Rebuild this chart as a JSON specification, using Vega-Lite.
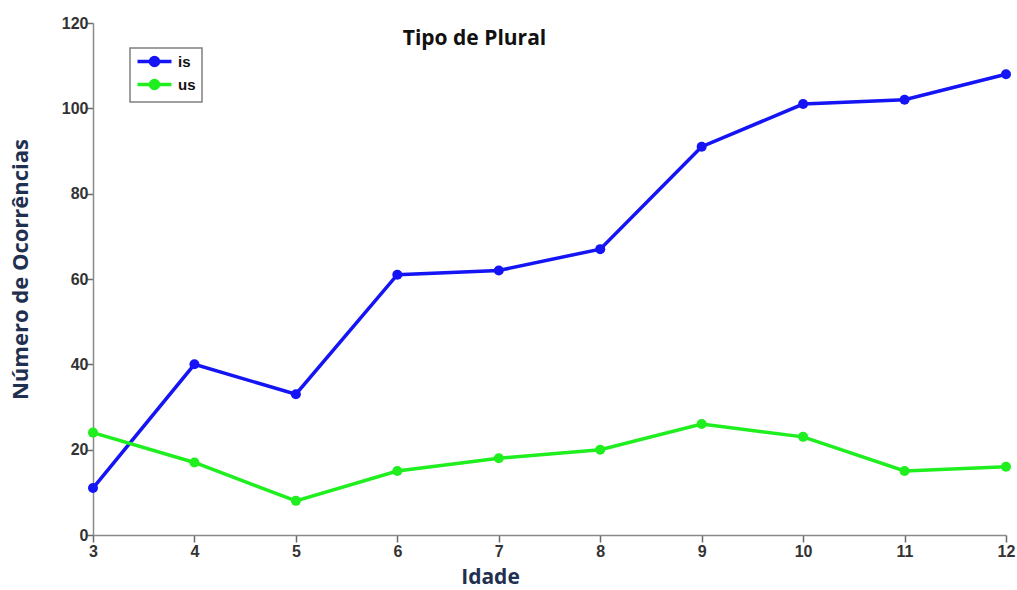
{
  "$schema": "https://vega.github.io/schema/vega-lite/v6.json",
  "width": 913,
  "height": 512,
  "autosize": {"type": "none"},
  "padding": {"left": 93, "top": 23, "right": 11, "bottom": 55},
  "background": "white",
  "config": {"view": {"stroke": null}},
  "title": {
    "text": "Tipo de Plural",
    "font": "Open Sans",
    "fontSize": 21,
    "fontWeight": "bold",
    "color": "#111111",
    "anchor": "middle",
    "dx": -75,
    "offset": -34
  },
  "data": {
    "values": [
      {"idade": 3, "tipo": "is", "n": 11},
      {"idade": 4, "tipo": "is", "n": 40},
      {"idade": 5, "tipo": "is", "n": 33},
      {"idade": 6, "tipo": "is", "n": 61},
      {"idade": 7, "tipo": "is", "n": 62},
      {"idade": 8, "tipo": "is", "n": 67},
      {"idade": 9, "tipo": "is", "n": 91},
      {"idade": 10, "tipo": "is", "n": 101},
      {"idade": 11, "tipo": "is", "n": 102},
      {"idade": 12, "tipo": "is", "n": 108},
      {"idade": 3, "tipo": "us", "n": 24},
      {"idade": 4, "tipo": "us", "n": 17},
      {"idade": 5, "tipo": "us", "n": 8},
      {"idade": 6, "tipo": "us", "n": 15},
      {"idade": 7, "tipo": "us", "n": 18},
      {"idade": 8, "tipo": "us", "n": 20},
      {"idade": 9, "tipo": "us", "n": 26},
      {"idade": 10, "tipo": "us", "n": 23},
      {"idade": 11, "tipo": "us", "n": 15},
      {"idade": 12, "tipo": "us", "n": 16}
    ]
  },
  "encoding": {
    "x": {
      "field": "idade",
      "type": "quantitative",
      "scale": {"domain": [3, 12], "nice": false},
      "axis": {
        "title": "Idade",
        "values": [3, 4, 5, 6, 7, 8, 9, 10, 11, 12],
        "grid": false,
        "labelFlush": false,
        "domainColor": "#8a8a8a",
        "domainWidth": 1.5,
        "tickColor": "#6a6a6a",
        "tickWidth": 1.5,
        "tickSize": 7,
        "labelPadding": 1,
        "labelFont": "Liberation Sans",
        "labelFontSize": 16,
        "labelFontWeight": "bold",
        "labelColor": "#333333",
        "titleFont": "Open Sans",
        "titleFontSize": 21,
        "titleFontWeight": "bold",
        "titleColor": "#1F3050",
        "titleX": 397,
        "titleY": 31,
        "encode": {"ticks": {"update": {"y2": {"value": -7}}}}
      }
    },
    "y": {
      "field": "n",
      "type": "quantitative",
      "scale": {"domain": [0, 120], "nice": false},
      "axis": {
        "title": "Número de Ocorrências",
        "values": [0, 20, 40, 60, 80, 100, 120],
        "grid": false,
        "labelFlush": false,
        "domainColor": "#8a8a8a",
        "domainWidth": 1.5,
        "tickColor": "#6a6a6a",
        "tickWidth": 1.5,
        "tickSize": 7,
        "labelPadding": -2,
        "labelFont": "Liberation Sans",
        "labelFontSize": 16,
        "labelFontWeight": "bold",
        "labelColor": "#333333",
        "titleFont": "Open Sans",
        "titleFontSize": 22,
        "titleFontWeight": "bold",
        "titleColor": "#1F3050",
        "titleX": -61,
        "titleY": 246,
        "encode": {"ticks": {"update": {"x2": {"value": 7}}}}
      }
    },
    "color": {
      "field": "tipo",
      "type": "nominal",
      "scale": {"domain": ["is", "us"], "range": ["#1414f5", "#1fee1f"]},
      "legend": {
        "title": null,
        "orient": "none",
        "legendX": 37,
        "legendY": 25,
        "strokeColor": "#808080",
        "fillColor": "white",
        "padding": 6,
        "rowPadding": 0,
        "symbolType": "M-3.4,0H3.4M-0.8,0A0.8,0.8 0 1,1 0.8,0A0.8,0.8 0 1,1 -0.8,0Z",
        "symbolSize": 100,
        "symbolOffset": 11,
        "symbolStrokeWidth": 3.5,
        "labelFont": "Liberation Sans",
        "labelFontSize": 15,
        "labelFontWeight": "bold",
        "labelColor": "#111111",
        "labelOffset": 16,
        "encode": {
          "legend": {"update": {"strokeWidth": {"value": 1.5}}},
          "symbols": {
            "update": {
              "fill": {"scale": "color", "field": "value"},
              "stroke": {"scale": "color", "field": "value"},
              "opacity": {"value": 1}
            }
          }
        }
      }
    }
  },
  "layer": [
    {"mark": {"type": "line", "strokeWidth": 3.5}},
    {"mark": {"type": "point", "filled": true, "size": 100, "opacity": 1}}
  ]
}
